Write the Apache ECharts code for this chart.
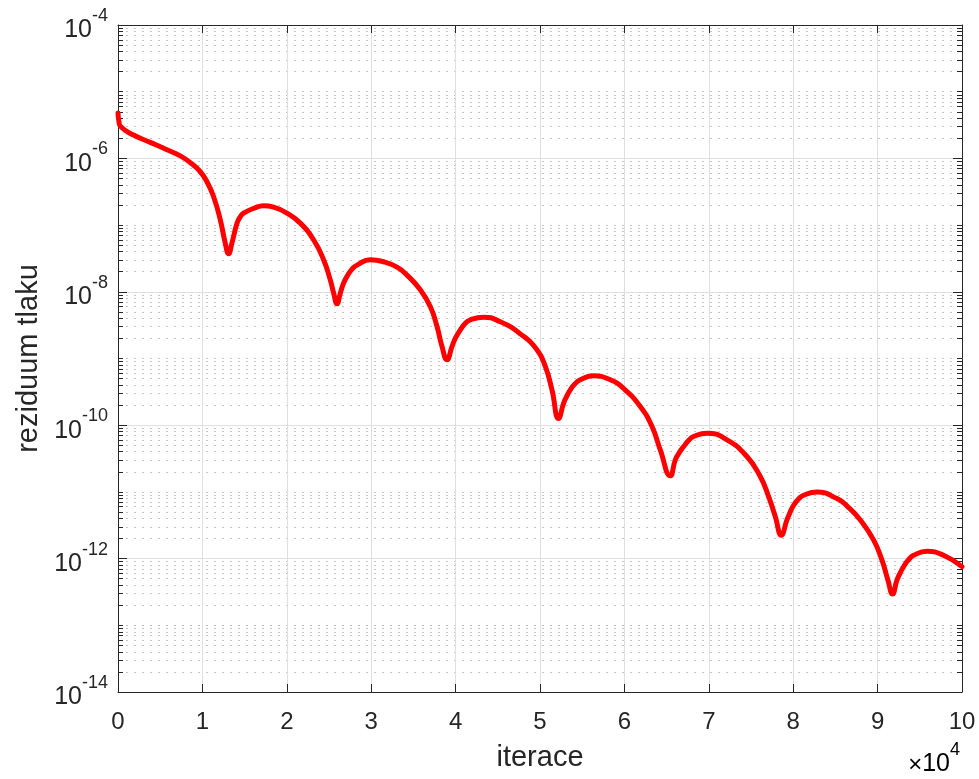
<!DOCTYPE html>
<html>
<head>
<meta charset="utf-8">
<script src="https://cdn.jsdelivr.net/npm/echarts@6/dist/echarts.min.js"></script>
<style>html,body{margin:0;padding:0;background:#fff}#c{width:979px;height:779px}</style>
</head>
<body>
<div id="c"></div>
<script>
// iterations (x) and pressure residual (y)
const iterations = [0, 100, 300, 1850, 3830, 5800, 7380, 8570, 9750, 10540, 11330, 12120, 12710, 13100, 13500, 14100, 14490, 14880, 16070, 17250, 18440, 20020, 21600, 23170, 24360, 25150, 25550, 25950, 26340, 26730, 27130, 27730, 28320, 29900, 31470, 33060, 34240, 35820, 37000, 37800, 38390, 38980, 39570, 39960, 40560, 41100, 41740, 43320, 45300, 47670, 49640, 50630, 51420, 52200, 52800, 53150, 53590, 54150, 54770, 56350, 58330, 59910, 61880, 63270, 64250, 65440, 66030, 66500, 67020, 67600, 68200, 69790, 72160, 74520, 76100, 77090, 77880, 78590, 79260, 79650, 80050, 80600, 81230, 82820, 85190, 86450, 87950, 89520, 90510, 91220, 91770, 92300, 92700, 93080, 93650, 94270, 95850, 97820, 100000];
const residuum = [4.79e-6, 3.63e-6, 3.02e-6, 2.24e-6, 1.74e-6, 1.35e-6, 1.09e-6, 8.63e-7, 6.31e-7, 4.47e-7, 2.66e-7, 1.20e-7, 5.37e-8, 3.72e-8, 5.37e-8, 1.07e-7, 1.33e-7, 1.51e-7, 1.78e-7, 1.95e-7, 1.86e-7, 1.51e-7, 1.07e-7, 6.03e-8, 3.02e-8, 1.51e-8, 9.55e-9, 6.61e-9, 9.55e-9, 1.35e-8, 1.70e-8, 2.19e-8, 2.51e-8, 3.02e-8, 2.82e-8, 2.34e-8, 1.78e-8, 1.07e-8, 6.03e-9, 3.02e-9, 1.51e-9, 9.55e-10, 1.51e-9, 2.00e-9, 2.69e-9, 3.31e-9, 3.80e-9, 4.17e-9, 3.55e-9, 2.34e-9, 1.35e-9, 7.59e-10, 3.39e-10, 1.26e-10, 2.14e-10, 2.69e-10, 3.39e-10, 4.17e-10, 4.79e-10, 5.50e-10, 4.79e-10, 3.55e-10, 1.91e-10, 9.55e-11, 4.27e-11, 1.74e-11, 3.02e-11, 3.89e-11, 4.79e-11, 5.89e-11, 6.76e-11, 7.59e-11, 6.03e-11, 3.39e-11, 1.70e-11, 8.51e-12, 4.27e-12, 2.24e-12, 3.80e-12, 5.01e-12, 6.31e-12, 7.76e-12, 8.91e-12, 1.00e-11, 7.94e-12, 6.03e-12, 3.80e-12, 1.91e-12, 9.55e-13, 4.79e-13, 2.95e-13, 4.79e-13, 6.17e-13, 7.59e-13, 9.55e-13, 1.12e-12, 1.29e-12, 1.12e-12, 7.59e-13];
// y tick marks: labelled decades and minor positions
const yMajorTicks = [1e-14, 1e-12, 1e-10, 1e-8, 1e-6, 1e-4];
const yMinorTicks = [];
for (let k = -14; k < -4; k++) {
  const base = Number('1e' + k);
  if (k % 2 !== 0) yMinorTicks.push(base);
  for (let m = 2; m <= 9; m++) yMinorTicks.push(Number(m + 'e' + k));
}
const xLabelScale = 10000;

const TXT = '#262626';
const FONT = 'Liberation Sans, Arial, Helvetica, sans-serif';
const data = iterations.map((x, i) => [x, residuum[i]]);

const yCommon = {type: 'log', logBase: 10, min: 1e-14, max: 1e-4};
const chart = echarts.init(document.getElementById('c'));
chart.setOption({
  animation: false,
  backgroundColor: '#ffffff',
  grid: {left: 118, right: 17, top: 25, bottom: 87, containLabel: false, outerBoundsMode: 'none'},
  xAxis: [{
    type: 'value', min: 0, max: 100000, interval: 10000, position: 'bottom',
    name: 'iterace', nameLocation: 'middle', nameGap: 51,
    nameTextStyle: {fontSize: 29, color: TXT, fontFamily: FONT},
    axisLine: {show: true, lineStyle: {color: TXT, width: 1}},
    axisTick: {show: true, inside: true, length: 8, lineStyle: {color: TXT}},
    axisLabel: {fontSize: 24, color: TXT, fontFamily: FONT, margin: 18, formatter: v => String(v / xLabelScale)},
    splitLine: {show: true, lineStyle: {color: '#dfdfdf', width: 1}}
  }, {
    type: 'value', min: 0, max: 100000, interval: 10000, position: 'top',
    axisLine: {show: true, onZero: false, lineStyle: {color: TXT, width: 1}},
    axisTick: {show: true, inside: true, length: 8, lineStyle: {color: TXT}},
    axisLabel: {show: false}, splitLine: {show: false}
  }],
  yAxis: [Object.assign({}, yCommon, {
    position: 'left',
    name: 'reziduum tlaku', nameLocation: 'middle', nameGap: 66,
    nameTextStyle: {fontSize: 29, color: TXT, fontFamily: FONT},
    axisLine: {show: true, lineStyle: {color: TXT, width: 1}},
    axisTick: {show: true, inside: true, length: 9, customValues: yMajorTicks, lineStyle: {color: TXT}},
    axisLabel: {
      customValues: yMajorTicks, margin: 10, color: TXT, fontFamily: FONT,
      formatter: v => '{b|10}{s|' + Math.round(Math.log10(v)) + '}',
      rich: {
        b: {fontSize: 25, color: TXT, fontFamily: FONT, lineHeight: 36, verticalAlign: 'bottom'},
        s: {fontSize: 18, color: TXT, fontFamily: FONT, lineHeight: 19, verticalAlign: 'top'}
      }
    },
    splitLine: {show: true, lineStyle: {color: '#dfdfdf', width: 1}}
  }), Object.assign({}, yCommon, {
    position: 'left',
    axisLine: {show: false},
    axisTick: {show: true, inside: true, length: 5, customValues: yMinorTicks, lineStyle: {color: TXT}},
    axisLabel: {show: false},
    splitLine: {show: true, lineStyle: {color: '#c6c6c6', width: 1, type: [2, 6]}}
  }), Object.assign({}, yCommon, {
    position: 'right',
    axisLine: {show: true, onZero: false, lineStyle: {color: TXT, width: 1}},
    axisTick: {show: true, inside: true, length: 9, customValues: yMajorTicks, lineStyle: {color: TXT}},
    axisLabel: {show: false}, splitLine: {show: false}
  }), Object.assign({}, yCommon, {
    position: 'right',
    axisLine: {show: false},
    axisTick: {show: true, inside: true, length: 5, customValues: yMinorTicks, lineStyle: {color: TXT}},
    axisLabel: {show: false}, splitLine: {show: false}
  })],
  graphic: [{
    type: 'text', right: 19, bottom: 2,
    style: {
      text: '{x|×}{b|10}{s|4}', fontFamily: FONT,
      rich: {
        x: {fontSize: 24, color: TXT, fontFamily: FONT, lineHeight: 36, verticalAlign: 'bottom'},
        b: {fontSize: 25, color: TXT, fontFamily: FONT, lineHeight: 36, verticalAlign: 'bottom'},
        s: {fontSize: 18, color: TXT, fontFamily: FONT, lineHeight: 19, verticalAlign: 'top'}
      }
    }
  }],
  series: [{
    type: 'line', xAxisIndex: 0, yAxisIndex: 0, data: data,
    showSymbol: false, smooth: 0.5, clip: false,
    lineStyle: {color: '#ff0000', width: 5, cap: 'round', join: 'round'}
  }]
});
</script>
</body>
</html>
